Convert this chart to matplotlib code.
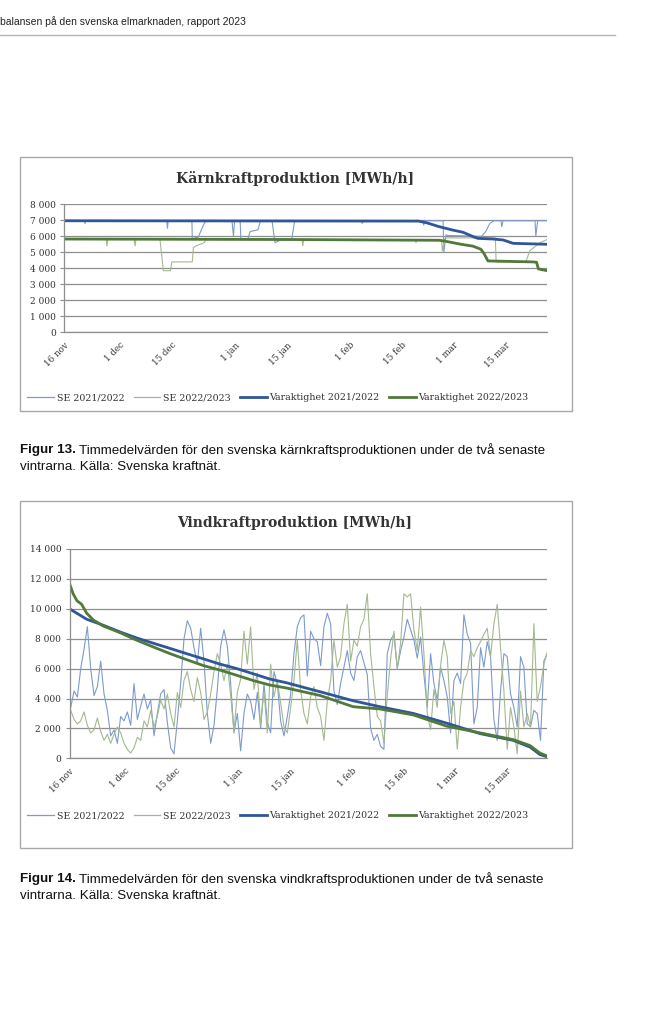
import matplotlib.pyplot as plt
import numpy as np
from matplotlib.lines import Line2D
from matplotlib.patches import Rectangle
from matplotlib.ticker import FuncFormatter

# x-axeln i dagar räknat från 16 nov
tick_days = [0, 15, 29, 46, 60, 77, 91, 105, 119]
tick_labels = ['16 nov', '1 dec', '15 dec', '1 jan', '15 jan', '1 feb', '15 feb', '1 mar', '15 mar']
series_names = ['SE 2021/2022', 'SE 2022/2023', 'Varaktighet 2021/2022', 'Varaktighet 2022/2023']
x_end = 130.2

# --- kärnkraft (avlästa brytpunkter, dag / MWh/h) ---
karn_se2122_days = [0, 5.4, 5.6, 5.8, 27.6, 27.8, 28.0, 34.4, 34.5, 36.1, 37.7, 38.2, 45.2, 45.6, 45.9,
                    47.4, 47.6, 49.5, 50.1, 52.2, 52.8, 53.3, 56.0, 56.8, 58.2, 61.3, 62.1, 80.1, 80.3,
                    80.6, 96.7, 96.9, 97.1, 102.1, 102.3, 102.9, 103.4, 112.5, 113.6, 114.7, 115.8,
                    117.7, 117.9, 118.3, 126.9, 127.1, 127.6, 130.2]
karn_se2122 = [6970, 6970, 6800, 6970, 6970, 6500, 6970, 6970, 5850, 5950, 6800, 6970, 6970, 6000, 6970,
               6970, 5800, 5850, 6300, 6400, 6900, 6970, 6970, 5600, 5750, 5800, 6970, 6970, 6800,
               6970, 6970, 6700, 6970, 6970, 5000, 6100, 6050, 6000, 6300, 6800, 6970,
               6970, 6600, 6970, 6970, 6000, 6970, 6970]
karn_se2223_days = [0, 11.3, 11.5, 11.7, 18.8, 19.1, 19.3, 25.8, 26.7, 28.6, 29.0, 34.5, 34.8, 35.5,
                    37.7, 38.2, 64.1, 64.3, 64.5, 94.6, 94.8, 95.0, 101.7, 101.9, 102.6, 116.2, 116.4,
                    124.4, 125.5, 128.2, 130.2]
karn_se2223 = [5800, 5800, 5400, 5800, 5800, 5400, 5800, 5800, 3850, 3850, 4400, 4400, 5300, 5400,
               5600, 5800, 5800, 5400, 5800, 5800, 5600, 5800, 5800, 5100, 5900, 5900, 4400,
               4400, 5100, 5600, 5800]
karn_var2122_days = [0, 95.5, 97.6, 101.1, 104.7, 107.5, 110.2, 111.5, 115.6, 118.3, 121.0, 130.2]
karn_var2122 = [6970, 6950, 6850, 6600, 6390, 6250, 5980, 5870, 5830, 5770, 5560, 5500]
karn_var2223_days = [0, 60, 101.1, 103.0, 106.5, 110.2, 112.3, 113.2, 114.2, 126.2, 127.3, 127.8, 130.2]
karn_var2223 = [5830, 5800, 5750, 5680, 5520, 5380, 5190, 4900, 4460, 4400, 4380, 3960, 3850]

# --- vindkraft (avläst ungefär var 22:a timme) ---
wind_start, wind_step = 0.33, 0.908
vind_se2122 = [3400, 4500, 4100, 6000, 7300, 8800, 6000, 4200, 4800, 6500,
               4300, 3200, 1500, 1900, 1000, 2800, 2500, 3100, 2200, 5000,
               2600, 3500, 4300, 3300, 3900, 1500, 3000, 4300, 4600, 2400,
               700, 300, 2500, 5000, 8000, 9200, 8700, 7400, 6300, 8700,
               6500, 3000, 1000, 2200, 4600, 7500, 8600, 7500, 5000, 1700,
               3000, 500, 3000, 4300, 3800, 2600, 4400, 2000, 5000, 2400,
               1700, 5800, 5000, 2500, 1500, 2800, 4300, 7000, 8800, 9400,
               9600, 5500, 8500, 8000, 7800, 6200, 8800, 9700, 9000, 4500,
               3600, 5000, 6100, 7200, 5700, 5200, 6800, 7200, 6400, 5600,
               2000, 1200, 1600, 800, 600, 7000, 7900, 8300, 6000, 7200,
               8100, 9300, 8600, 7900, 6700, 8100, 5600, 3400, 7000, 5000,
               3900, 6100, 5200, 4100, 1700, 5200, 5700, 5000, 9600, 8300,
               7700, 2300, 3400, 7400, 6100, 7800, 6800, 2600, 1200, 4500,
               7000, 6800, 4300, 3400, 2100, 6800, 6100, 2300, 2100, 3200,
               3000, 1200, 6500, 7000]
vind_se2223 = [3200, 2600, 2300, 2500, 3100, 2200, 1700, 1900, 2700, 1800,
               1200, 1600, 1000, 1600, 2100, 1700, 1000, 600, 350, 700,
               1400, 1200, 2500, 2100, 3200, 2100, 2800, 3900, 3300, 4300,
               3000, 2100, 4400, 3400, 5200, 5800, 4600, 3800, 5400, 4400,
               2600, 3100, 4300, 5800, 7000, 6300, 5200, 6300, 4200, 1800,
               4400, 5300, 8500, 6300, 8800, 4600, 5700, 2200, 4500, 1700,
               6300, 4100, 5200, 3700, 2100, 1700, 3400, 5200, 7900, 4600,
               3000, 2300, 4100, 4800, 3400, 2800, 1200, 3800, 5200, 7900,
               6100, 6800, 9000, 10300, 6500, 7900, 7500, 8800, 9300, 11000,
               7000, 4800, 2800, 2500, 1000, 4200, 6600, 8500, 6000, 7700,
               11000, 10800, 11000, 8600, 7200, 10100, 7000, 3000, 1900, 4600,
               3400, 6200, 7900, 6800, 3000, 3800, 600, 3400, 5200, 5700,
               7200, 6800, 7400, 7800, 8300, 8700, 6800, 9000, 10300, 7400,
               4500, 600, 3400, 2100, 300, 4500, 2100, 3000, 2100, 9000,
               3800, 4800, 6300, 7100]
vind_var2122_days = [0, 4.7, 9.2, 13.8, 18.3, 22.8, 27.4, 31.9, 36.5, 41.0, 45.6, 50.1, 54.6, 59.2,
                     63.7, 68.3, 77.3, 84.6, 93.7, 102.8, 111.9, 120.9, 125.5, 128.2, 130.2]
vind_var2122 = [10000, 9300, 8900, 8450, 8050, 7700, 7350, 7000, 6650, 6300, 6000, 5650, 5300, 5050,
                4750, 4450, 3850, 3450, 3000, 2350, 1650, 1200, 750, 250, 100]
vind_var2223_days = [0, 1.0, 2.0, 3.3, 4.7, 6.5, 9.2, 13.8, 18.3, 22.8, 27.4, 31.9, 36.5, 41.0, 45.6,
                     50.1, 54.6, 59.2, 63.7, 68.3, 77.3, 84.6, 93.7, 102.8, 111.9, 120.9, 125.5,
                     128.2, 130.2]
vind_var2223 = [11700, 11000, 10550, 10300, 9700, 9250, 8850, 8400, 7900, 7450, 7000, 6600, 6200,
                5900, 5550, 5200, 4900, 4700, 4450, 4200, 3450, 3300, 2900, 2150, 1700, 1250, 850,
                350, 150]

c_se2122 = '#7d9bcc'
c_se2223 = '#a3b98f'
c_var2122 = '#2f5698'
c_var2223 = '#50793a'
grid_c = '#8e8e8e'
serif = 'DejaVu Serif'
sans = 'Liberation Sans'

W, H = 645, 1024
fig = plt.figure(figsize=(W / 100, H / 100), dpi=100)


def fx(x):
    return x / W


def fy(y):
    return 1 - y / H


def space_fmt(v, pos):
    return f'{int(v):,}'.replace(',', ' ')


def chart(box, rect, title, title_y, ymax, ystep, legend_y, se_a, se_b, var_a, var_b):
    l, t, r, b = box
    fig.add_artist(Rectangle((fx(l), fy(b)), (r - l) / W, (b - t) / H, fill=False,
                             ec='#a8a8a8', lw=1, transform=fig.transFigure))
    fig.text(fx(295), fy(title_y), title, ha='center', va='center', fontsize=10,
             weight='bold', family=serif, color='#333333')
    al, at, ar, ab = rect
    ax = fig.add_axes([fx(al), fy(ab), (ar - al) / W, (ab - at) / H])
    ax.plot(*se_a, color=c_se2122, lw=0.8)
    ax.plot(*se_b, color=c_se2223, lw=0.8)
    ax.plot(*var_a, color=c_var2122, lw=2.0)
    ax.plot(*var_b, color=c_var2223, lw=2.0)
    ax.set_xlim(0, x_end)
    ax.set_ylim(0, ymax)
    ax.set_yticks(np.arange(0, ymax + 1, ystep))
    ax.yaxis.set_major_formatter(FuncFormatter(space_fmt))
    ax.set_xticks(tick_days)
    ax.set_xticklabels(tick_labels, rotation=45, ha='right', va='top', rotation_mode='anchor')
    ax.grid(axis='y', color=grid_c, lw=0.9)
    ax.set_axisbelow(True)
    for s in ['top', 'right']:
        ax.spines[s].set_visible(False)
    for s in ['left', 'bottom']:
        ax.spines[s].set_color(grid_c)
        ax.spines[s].set_linewidth(0.9)
    ax.tick_params(axis='y', length=3, color=grid_c, pad=3, labelsize=6.5, labelcolor='#333333')
    ax.tick_params(axis='x', length=0, pad=6, labelsize=6.3, labelcolor='#333333')
    for lab in ax.get_xticklabels() + ax.get_yticklabels():
        lab.set_family(serif)
    handles = [Line2D([], [], color=c_se2122, lw=0.9), Line2D([], [], color='#a9b09f', lw=0.9),
               Line2D([], [], color=c_var2122, lw=2.0), Line2D([], [], color=c_var2223, lw=2.0)]
    fig.legend(handles, series_names, ncol=4, loc='center', bbox_to_anchor=(fx(278), fy(legend_y)),
               frameon=False, prop={'family': serif, 'size': 6.8}, handlelength=2.8,
               handletextpad=0.3, columnspacing=1.0, labelcolor='#333333')
    return ax


def caption(y, nr, rest1, line2):
    t = fig.text(fx(20), fy(y), f'Figur {nr}.', fontsize=9.6, weight='bold', family=sans,
                 va='center', color='#111111')
    bb = t.get_window_extent(renderer=fig.canvas.get_renderer())
    fig.text(bb.x1 / W + fx(3), fy(y), rest1, fontsize=9.6, family=sans, va='center', color='#111111')
    fig.text(fx(20), fy(y + 17), line2, fontsize=9.6, family=sans, va='center', color='#111111')


# sidhuvud
fig.text(fx(0), fy(22), 'balansen på den svenska elmarknaden, rapport 2023', fontsize=7.5,
         family=sans, va='center', color='#222222')
fig.add_artist(Line2D([0, fx(615)], [fy(35), fy(35)], color='#b5b5b5', lw=1,
                      transform=fig.transFigure))

wind_days = wind_start + wind_step * np.arange(len(vind_se2122))

chart((20, 157, 572, 411), (64.3, 204.3, 547.3, 332.3), 'Kärnkraftproduktion [MWh/h]', 178,
      8000, 1000, 398,
      (karn_se2122_days, karn_se2122), (karn_se2223_days, karn_se2223),
      (karn_var2122_days, karn_var2122), (karn_var2223_days, karn_var2223))
caption(450, 13, 'Timmedelvärden för den svenska kärnkraftsproduktionen under de två senaste',
        'vintrarna. Källa: Svenska kraftnät.')

chart((20, 501, 572, 848), (69.5, 549, 547.3, 758.3), 'Vindkraftproduktion [MWh/h]', 522.5,
      14000, 2000, 816,
      (wind_days, vind_se2122), (wind_days, vind_se2223),
      (vind_var2122_days, vind_var2122), (vind_var2223_days, vind_var2223))
caption(879, 14, 'Timmedelvärden för den svenska vindkraftsproduktionen under de två senaste',
        'vintrarna. Källa: Svenska kraftnät.')

fig.savefig('out.png', dpi=100)
